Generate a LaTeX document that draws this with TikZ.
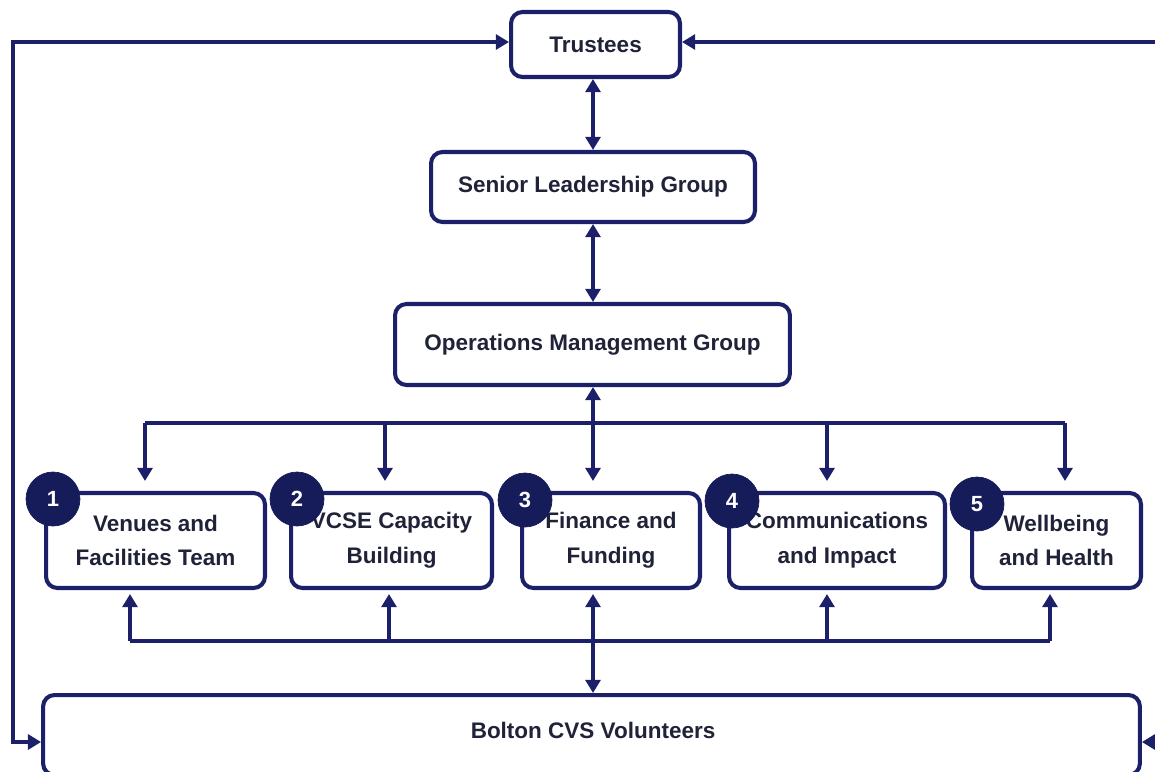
\documentclass[tikz,border=0pt]{standalone}
\usepackage{fontspec}
\setmainfont{Liberation Sans}
\usetikzlibrary{arrows.meta}
\definecolor{navy}{HTML}{1B2068}
\definecolor{badge}{HTML}{161B5A}
\definecolor{ink}{HTML}{202238}
\begin{document}
\begin{tikzpicture}[x=0.02cm,y=-0.02cm,
  box/.style={draw=navy,line width=2.3pt,rounded corners=6.5pt,fill=white,
    inner sep=0pt,font=\fontsize{12.8}{19.8}\selectfont\bfseries,text=ink,align=center},
  badgenode/.style={circle,fill=badge,draw=badge,minimum size=1.08cm,inner sep=0pt,
    text=white,font=\fontsize{12.5}{14}\selectfont\bfseries},
  link/.style={draw=navy,line width=2.3pt},
  tip/.tip={Triangle[width=8.5pt,length=7.5pt]},
  arr/.style={link,-tip},
  dbl/.style={link,tip-tip}]
\useasboundingbox (0,0) rectangle (1155,771);
\clip (0,0) rectangle (1155,771);
\fill[white] (0,0) rectangle (1155,771);

% hierarchy boxes
\node[box,minimum width=3.38cm,minimum height=1.30cm] (tr) at (595.5,44.5) {Trustees};
\node[box,minimum width=6.48cm,minimum height=1.40cm] (slg) at (593,187) {Senior Leadership Group};
\node[box,minimum width=7.90cm,minimum height=1.62cm] (omg) at (592.5,344.5) {Operations Management Group};

% team boxes
\node[box,minimum width=4.38cm,minimum height=1.90cm] (b1) at (155.5,540.5) {Venues and\\Facilities Team};
\node[box,minimum width=4.02cm,minimum height=1.90cm] (b2) at (391.5,540.5) {VCSE Capacity\\Building};
\node[box,minimum width=3.56cm,minimum height=1.90cm] (b3) at (611,540.5) {Finance and\\Funding};
\node[box,minimum width=4.32cm,minimum height=1.90cm] (b4) at (837,540.5) {Communications\\and Impact};
\node[box,minimum width=3.38cm,minimum height=1.90cm] (b5) at (1056.5,540.5) {Wellbeing\\and Health};

% volunteers
\node[box,minimum width=21.94cm,minimum height=1.60cm] (vol) at (591.5,735) {};
\node[font=\fontsize{12.8}{15}\selectfont\bfseries,text=ink] (voltext) at (593,730) {Bolton CVS Volunteers};

% numbered badges
\node[badgenode] (n1) at (53,499) {1};
\node[badgenode] (n2) at (297,499) {2};
\node[badgenode] (n3) at (525,500) {3};
\node[badgenode] (n4) at (732,501) {4};
\node[badgenode] (n5) at (977,504) {5};

% vertical chain
\draw[dbl] (tr.south -| 593,0) -- (slg.north -| 593,0);
\draw[dbl] (slg.south -| 593,0) -- (omg.north -| 593,0);

% distribution bus below operations group
\coordinate (d1) at (145,423);
\coordinate (d2) at (385,423);
\coordinate (d3) at (593,423);
\coordinate (d4) at (827,423);
\coordinate (d5) at (1065,423);
\draw[link] (d1) -- (d5);
\draw[dbl,shorten >=11pt*0] (omg.south -| d3) -- ([yshift=0.2cm]b3.north -| d3);
\draw[arr] (d1) -- ([yshift=0.2cm]b1.north -| d1);
\draw[arr] (d2) -- ([yshift=0.2cm]b2.north -| d2);
\draw[arr] (d4) -- ([yshift=0.2cm]b4.north -| d4);
\draw[arr] (d5) -- ([yshift=0.2cm]b5.north -| d5);

% feedback bus above volunteers
\coordinate (u1) at (130,641);
\coordinate (u2) at (389,641);
\coordinate (u3) at (593,641);
\coordinate (u4) at (827,641);
\coordinate (u5) at (1050,641);
\draw[link] (u1) -- (u5);
\draw[arr] (u1) -- ([yshift=-0.08cm]b1.south -| u1);
\draw[arr] (u2) -- ([yshift=-0.08cm]b2.south -| u2);
\draw[arr] (u4) -- ([yshift=-0.08cm]b4.south -| u4);
\draw[arr] (u5) -- ([yshift=-0.08cm]b5.south -| u5);
\draw[dbl] ([yshift=-0.08cm]b3.south -| u3) -- (vol.north -| u3);

% outer loops between trustees and volunteers
\coordinate (ltop) at (13,42);
\coordinate (lbot) at (13,742);
\coordinate (rtop) at (1175,42);
\coordinate (rbot) at (1175,742);
\draw[dbl] (vol.west |- lbot) -- (lbot) -- (ltop) -- (tr.west |- ltop);
\draw[dbl] (tr.east |- rtop) -- (rtop) -- (rbot) -- (vol.east |- rbot);
\end{tikzpicture}
\end{document}
